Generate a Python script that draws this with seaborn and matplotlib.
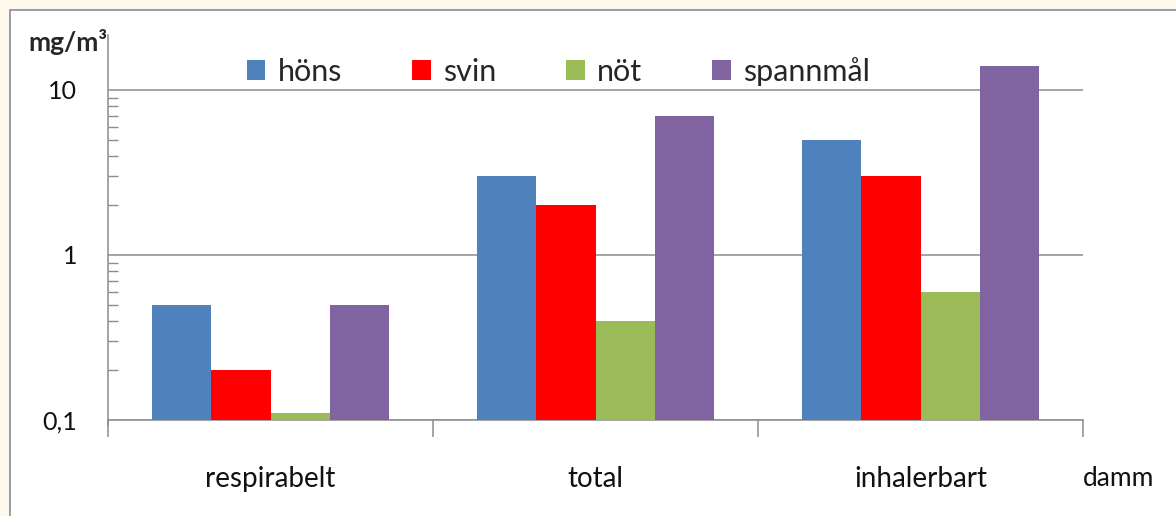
import numpy as np
import pandas as pd
import seaborn as sns
import matplotlib.pyplot as plt
from matplotlib.patches import Rectangle
from matplotlib.ticker import FixedLocator, LogLocator, NullFormatter

# data (mg/m3, log scale)
fraktioner = ['respirabelt', 'total', 'inhalerbart']
djur = ['höns', 'svin', 'nöt', 'spannmål']
hons = [0.5, 3.0, 5.0]
svin = [0.2, 2.0, 3.0]
notkreatur = [0.11, 0.4, 0.6]
spannmal = [0.5, 7.0, 14.0]
farger = ['#4F81BD', '#FF0000', '#9BBB59', '#8064A2']

rows = []
for serie, namn in zip([hons, svin, notkreatur, spannmal], djur):
    for f, v in zip(fraktioner, serie):
        rows.append({'fraktion': f, 'djur': namn, 'halt': v})
df = pd.DataFrame(rows)

sns.set_style('white')
plt.rcParams['font.family'] = ['Lato', 'DejaVu Sans']

fig = plt.figure(figsize=(11.76, 5.16), dpi=100)
fig.patch.set_facecolor('#FEF9EC')
# white inner panel with grey frame
fig.patches.append(Rectangle((10 / 1176, -0.1), 1.2, (506 / 516) + 0.1,
                             transform=fig.transFigure, facecolor='white',
                             edgecolor='#8C8C8C', linewidth=1.2, zorder=-5))

ax = fig.add_axes([108 / 1176, 96 / 516, (1083 - 108) / 1176, (475 - 96) / 516])
ax.set_facecolor('none')
sns.barplot(data=df, x='fraktion', y='halt', hue='djur', order=fraktioner,
            hue_order=djur, palette=farger, width=0.73, linewidth=0,
            saturation=1, ax=ax, zorder=3)
ax.set_yscale('log')
ax.set_ylim(0.1, 19.8)
ax.set_xlim(-0.5, 2.5)

# y axis
ax.yaxis.set_major_locator(FixedLocator([0.1, 1, 10]))
ax.set_yticklabels(['0,1', '1', '10'])
ax.yaxis.set_minor_locator(LogLocator(base=10, subs=np.arange(2, 10)))
ax.yaxis.set_minor_formatter(NullFormatter())
ax.tick_params(axis='y', which='major', length=0, pad=22, labelsize=18, labelcolor='#111111')
ax.tick_params(axis='y', which='minor', direction='in', length=7, width=1, color='#8C8C8C', left=True)
ax.grid(axis='y', which='major', color='#8C8C8C', linewidth=1.1, zorder=0)
ax.set_axisbelow(True)

# x axis: boundary ticks, labels in the middle
ax.set_xticks([-0.5, 0.5, 1.5, 2.5])
ax.set_xticklabels([])
ax.set_xticks([0, 1, 2], minor=True)
ax.set_xticklabels(fraktioner, minor=True)
ax.tick_params(axis='x', which='major', direction='out', length=12, width=1.1, color='#8C8C8C', bottom=True)
ax.tick_params(axis='x', which='minor', length=0, pad=33, labelsize=20, labelcolor='#111111')

for s in ['top', 'right']:
    ax.spines[s].set_visible(False)
for s in ['left', 'bottom']:
    ax.spines[s].set_color('#8C8C8C')
    ax.spines[s].set_linewidth(1.1)
ax.spines['left'].set_bounds(0.093, 21.5)

ax.set_xlabel('')
ax.set_ylabel('')

leg = ax.legend(loc='center', bbox_to_anchor=(0.462, 0.92), ncol=4, frameon=False,
                fontsize=22, handlelength=0.6, handleheight=0.6, handletextpad=0.4,
                columnspacing=2.3)

fig.text(28 / 1176, 1 - 42 / 516, 'mg/m³', fontsize=19, fontweight='bold', va='center', ha='left')
fig.text(1083 / 1176, 1 - 479 / 516, 'damm', fontsize=19, va='center', ha='left', color='#111111')

fig.savefig('out.png', dpi=100, facecolor=fig.get_facecolor())
